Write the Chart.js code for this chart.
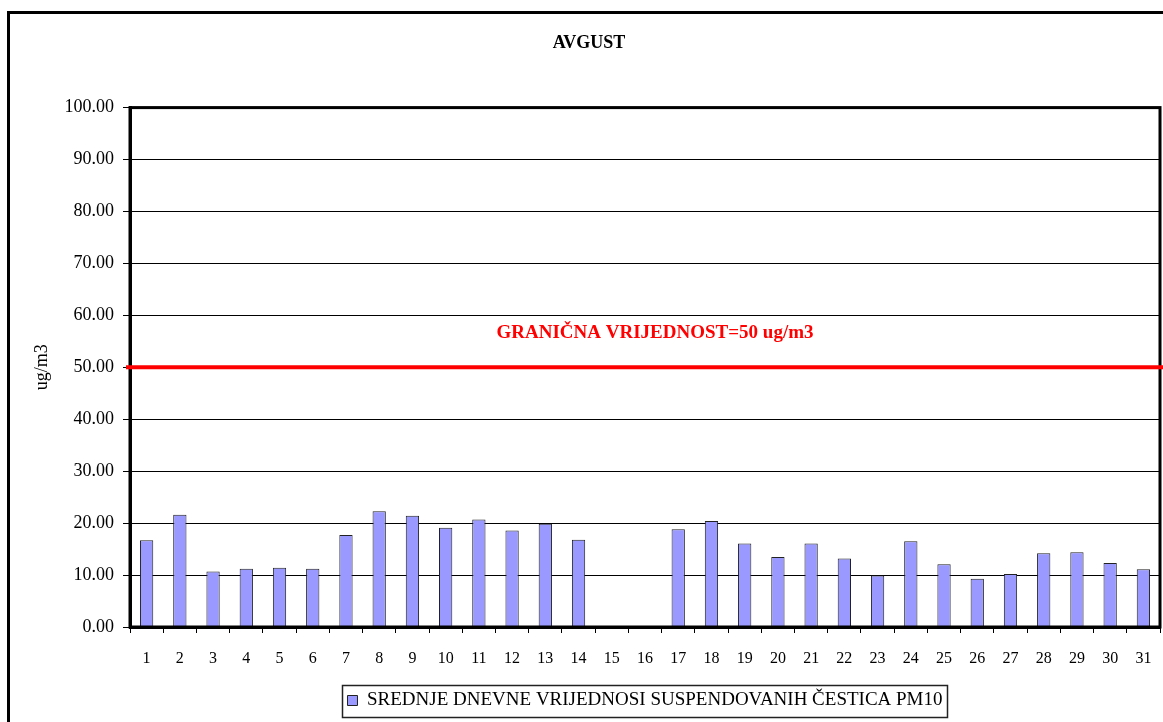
<!DOCTYPE html>
<html>
<head>
<meta charset="utf-8">
<script src="https://cdn.jsdelivr.net/npm/chart.js@4.4.1/dist/chart.umd.min.js"></script>
<style>
  html, body { margin: 0; padding: 0; background: #fff; overflow: hidden; }
  #frame { position: absolute; left: 7px; top: 11px; width: 1200px; height: 800px; border: 3px solid #000; }
  #wrap { position: absolute; left: 0; top: 0; width: 1163px; height: 722px; }
</style>
</head>
<body>
<div id="frame"></div>
<div id="wrap"><canvas id="chart"></canvas></div>
<script>
const TITLE = 'AVGUST';
const Y_TITLE = 'ug/m3';
const SERIES_LABEL = 'SREDNJE DNEVNE VRIJEDNOSI SUSPENDOVANIH ČESTICA PM10';
const LIMIT = 50;
const LIMIT_LABEL = 'GRANIČNA VRIJEDNOST=50 ug/m3';

const days = ['1', '2', '3', '4', '5', '6', '7', '8', '9', '10', '11', '12', '13', '14', '15', '16',
    '17', '18', '19', '20', '21', '22', '23', '24', '25', '26', '27', '28', '29', '30', '31'];
// days 15 and 16 have no measurement
const pm10 = [16.7, 21.6, 10.7, 11.2, 11.4, 11.2, 17.7, 22.3, 21.4, 19.1, 20.7, 18.6, 19.9, 16.8, null, null,
    18.8, 20.4, 16.1, 13.5, 16.1, 13.2, 9.9, 16.5, 12.1, 9.3, 10.2, 14.2, 14.4, 12.3, 11.1];

const SERIF = '"Liberation Serif", "Times New Roman", serif';

/**
 * draws plot border, limit line with its label and the box round the legend.
 * The legend is centred under the plot area, not under the whole canvas.
 */
const extras = {
    id: 'extras',
    afterLayout(chart) {
        const legend = chart.legend;
        const a = chart.chartArea;
        const shift = (a.left + a.right) / 2 - (legend.left + legend.right) / 2;
        legend.left += shift;
        legend.right += shift;
    },
    afterDatasetsDraw(chart) {
        const {ctx, chartArea: a, scales: {y}} = chart;
        const yLimit = y.getPixelForValue(LIMIT);
        ctx.save();
        ctx.strokeStyle = '#000';
        ctx.lineWidth = 3;
        ctx.strokeRect(a.left, a.top, a.right - a.left, a.bottom - a.top);

        ctx.strokeStyle = '#ff0000';
        ctx.lineWidth = 4;
        ctx.beginPath();
        ctx.moveTo(a.left - 4, yLimit);
        ctx.lineTo(chart.width, yLimit);
        ctx.stroke();

        ctx.fillStyle = '#ff0000';
        ctx.font = 'bold 19px ' + SERIF;
        ctx.textAlign = 'center';
        ctx.textBaseline = 'middle';
        ctx.fillText(LIMIT_LABEL, (a.left + a.right) / 2 + 10, yLimit - 34);
        ctx.restore();
    },
    afterDraw(chart) {
        const legend = chart.legend;
        const hb = legend.legendHitBoxes[0];
        if (!hb) return;
        const {ctx} = chart;
        const pad = legend.options.labels.padding;
        const w = legend.lineWidths[0] - pad + 10;
        const cx = (legend.left + legend.right) / 2;
        const cy = legend.top + pad + hb.height / 2;
        ctx.save();
        ctx.strokeStyle = '#222';
        ctx.lineWidth = 1.5;
        ctx.strokeRect(Math.round(cx - w / 2) + 0.5, Math.round(cy - 16) + 0.5, Math.round(w), 32);
        ctx.restore();
    }
};

new Chart(document.getElementById('chart'), {
    type: 'bar',
    data: {
        labels: days,
        datasets: [{
            label: SERIES_LABEL,
            data: pm10,
            backgroundColor: '#9999ff',
            borderColor: '#222',
            borderWidth: 1,
            barPercentage: 0.4,
            categoryPercentage: 1,
        }]
    },
    options: {
        responsive: true,
        maintainAspectRatio: false,
        animation: false,
        layout: {
            padding: {left: 18, right: 3, top: 0, bottom: 2},
        },
        plugins: {
            title: {
                display: true,
                text: TITLE,
                color: '#000',
                font: {family: SERIF, size: 18, weight: 'bold'},
                padding: {top: 33, bottom: 53},
            },
            legend: {
                display: true,
                position: 'bottom',
                labels: {
                    color: '#000',
                    font: {family: SERIF, size: 19},
                    boxWidth: 10,
                    boxHeight: 10,
                    padding: 8,
                },
            },
            tooltip: {enabled: false},
        },
        scales: {
            x: {
                afterFit(scale) {
                    scale.height = 56;
                    scale.paddingLeft = 0;
                    scale.paddingRight = 0;
                },
                grid: {
                    display: true,
                    drawOnChartArea: false,
                    drawTicks: true,
                    tickLength: 6,
                    color: '#000',
                    offset: true,
                },
                border: {display: true, width: 3, color: '#000'},
                ticks: {
                    color: '#000',
                    font: {family: SERIF, size: 16},
                    padding: 16,
                    maxRotation: 0,
                    autoSkip: false,
                },
            },
            y: {
                min: 0,
                max: 100,
                afterFit(scale) { scale.width = 112; },
                grid: {
                    color: '#000',
                    lineWidth: 1,
                    tickLength: 7,
                },
                border: {display: true, width: 3, color: '#000'},
                ticks: {
                    stepSize: 10,
                    color: '#000',
                    font: {family: SERIF, size: 18},
                    padding: 9,
                    callback: (v) => Number(v).toFixed(2),
                },
                title: {
                    display: true,
                    text: Y_TITLE,
                    color: '#000',
                    font: {family: SERIF, size: 18},
                    padding: {top: 13, bottom: 0},
                },
            },
        },
    },
    plugins: [extras],
});
</script>
</body>
</html>
